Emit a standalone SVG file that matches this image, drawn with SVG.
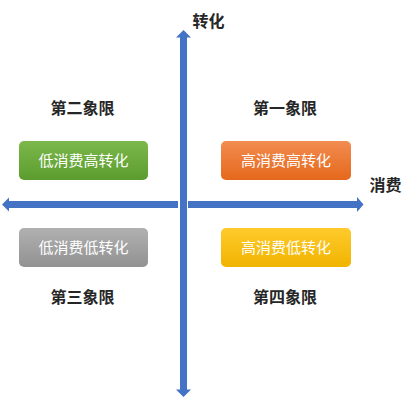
<svg xmlns="http://www.w3.org/2000/svg" width="414" height="400" viewBox="0 0 414 400">
<defs>
<linearGradient id="gGreen" x1="0" y1="0" x2="0" y2="1"><stop offset="0" stop-color="#7cb84c"/><stop offset="1" stop-color="#5c9c2e"/></linearGradient>
<linearGradient id="gOrange" x1="0" y1="0" x2="0" y2="1"><stop offset="0" stop-color="#f28c50"/><stop offset="1" stop-color="#e5681c"/></linearGradient>
<linearGradient id="gGray" x1="0" y1="0" x2="0" y2="1"><stop offset="0" stop-color="#b0b0b0"/><stop offset="1" stop-color="#929292"/></linearGradient>
<linearGradient id="gYellow" x1="0" y1="0" x2="0" y2="1"><stop offset="0" stop-color="#ffca2c"/><stop offset="1" stop-color="#f0b400"/></linearGradient>
</defs>
<style>
.lbl{font-family:"Noto Sans CJK SC","Noto Sans",sans-serif;font-size:16px;font-weight:bold;fill:#262626;text-anchor:middle}
.btxt{font-family:"Noto Sans CJK SC","Noto Sans",sans-serif;font-size:15px;fill:#ffffff;text-anchor:middle}
.axis{fill:#4472c4}
</style>
<g id="connectors">
<path class="axis" d="M2,204.5 L9,197.5 L9,201 L178,201 L178,208 L9,208 L9,211.5 Z"/>
<path class="axis" d="M188,201 L357,201 L357,197 L363.5,204.5 L357,212 L357,208 L188,208 Z"/>
<path class="axis" d="M183.5,30 L191,37.5 L187,37.5 L187,389.5 L191,389.5 L183.5,397 L176,389.5 L180,389.5 L180,37.5 L176,37.5 Z"/>
</g>
<g id="axis-y-label"><text class="lbl" x="208.5" y="27">转化</text></g>
<g id="axis-x-label"><text class="lbl" x="385.5" y="190.5">消费</text></g>
<g id="q2-label"><text class="lbl" x="82.5" y="113.5">第二象限</text></g>
<g id="q1-label"><text class="lbl" x="285" y="113.5">第一象限</text></g>
<g id="q3-label"><text class="lbl" x="82.5" y="302.5">第三象限</text></g>
<g id="q4-label"><text class="lbl" x="285" y="302.5">第四象限</text></g>
<g id="box-low-high">
<rect x="19" y="141" width="129" height="39" rx="5" fill="url(#gGreen)"/>
<text class="btxt" x="83.5" y="165.5">低消费高转化</text>
</g>
<g id="box-high-high">
<rect x="221" y="141" width="130" height="39" rx="5" fill="url(#gOrange)"/>
<text class="btxt" x="286" y="165.5">高消费高转化</text>
</g>
<g id="box-low-low">
<rect x="19" y="228" width="129" height="39" rx="5" fill="url(#gGray)"/>
<text class="btxt" x="83.5" y="252.5">低消费低转化</text>
</g>
<g id="box-high-low">
<rect x="221" y="228" width="130" height="39" rx="5" fill="url(#gYellow)"/>
<text class="btxt" x="286" y="252.5">高消费低转化</text>
</g>
</svg>
